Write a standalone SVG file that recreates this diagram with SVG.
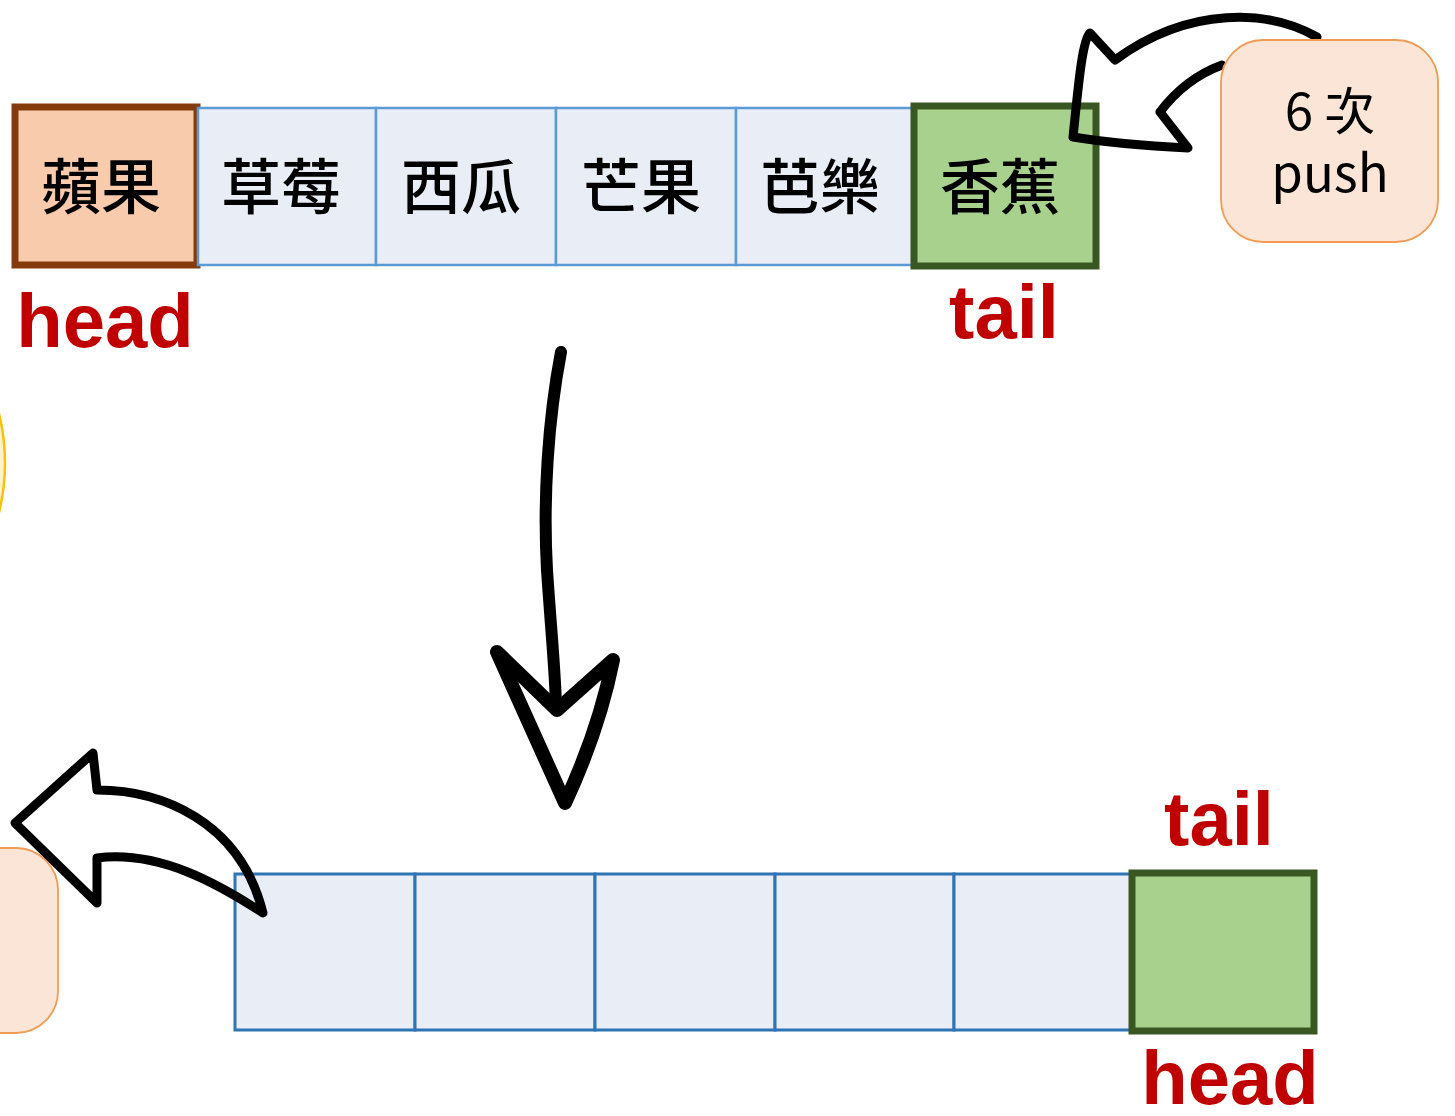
<svg xmlns="http://www.w3.org/2000/svg" width="1455" height="1116" viewBox="0 0 1455 1116">
<style>
.cjk{font-family:"Noto Sans CJK TC","Noto Sans CJK SC",sans-serif;font-weight:500;font-size:60px;fill:#000;text-anchor:middle}
.lbl{font-family:"Liberation Sans",Arial,sans-serif;font-weight:bold;font-size:76px;fill:#C00000;text-anchor:middle}
.cellT{fill:#E9EDF6;stroke:#5B9BD5;stroke-width:2.5}
.cellB{fill:#E9EDF6;stroke:#2E75B6;stroke-width:3}
.green{fill:#A9D18E;stroke:#385723;stroke-width:7}
.bubble{fill:#FBE5D6;stroke:#F19A55;stroke-width:1.8}
.bt{font-family:"Noto Sans CJK TC","Noto Sans",sans-serif;font-size:51px;fill:#000;text-anchor:middle}
.arr{fill:none;stroke:#000;stroke-width:9;stroke-linejoin:round;stroke-linecap:round}
</style>
<rect width="1455" height="1116" fill="#fff"/>

<g id="yellow-circle"><circle cx="-200" cy="463" r="205" fill="#FFF2CC" stroke="#FFC000" stroke-width="2.5"/></g>

<g id="top-row">
  <g id="t1"><rect x="15" y="107" width="182" height="158" fill="#F8CBAD" stroke="#843C0C" stroke-width="7"/><text class="cjk" x="101" y="209">蘋果</text></g>
  <g id="t2"><rect class="cellT" x="198" y="108" width="178" height="157"/><text class="cjk" x="281" y="209">草莓</text></g>
  <g id="t3"><rect class="cellT" x="376" y="108" width="180" height="157"/><text class="cjk" x="461" y="209">西瓜</text></g>
  <g id="t4"><rect class="cellT" x="556" y="108" width="180" height="157"/><text class="cjk" x="641" y="209">芒果</text></g>
  <g id="t5"><rect class="cellT" x="736" y="108" width="178" height="157"/><text class="cjk" x="820" y="209">芭樂</text></g>
  <g id="t6"><rect class="green" x="914" y="106" width="182" height="160"/><text class="cjk" x="1000" y="209">香蕉</text></g>
</g>
<g id="top-labels">
  <text class="lbl" x="105" y="347">head</text>
  <text class="lbl" x="1004" y="338">tail</text>
</g>

<g id="connectors">
  <path id="push-arrow" class="arr" d="M1317,37 C1270,10 1190,5 1115,60 L1090,33 C1082,40 1078,90 1073,137 C1110,143 1150,146 1188,148 L1160,112 C1175,92 1195,75 1222,65"/>
  <path id="down-shaft" fill="none" stroke="#000" stroke-width="12" stroke-linecap="round" d="M561,352 C548,420 543,500 547,570 C551,630 556,680 556,710"/>
  <path id="down-head" fill="none" stroke="#000" stroke-width="14" stroke-linejoin="round" stroke-linecap="round" d="M497,652 L557,710 L613,660 C603,710 585,760 565,803 Z"/>
</g>

<g id="bubble-top"><rect class="bubble" x="1221" y="40" width="217" height="202" rx="42"/>
  <text class="bt" x="1330" y="130">6 次<tspan x="1330" y="192">push</tspan></text></g>

<g id="bubble-bottom"><rect class="bubble" x="-60" y="848" width="118" height="185" rx="42"/></g>

<g id="bottom-row">
  <g id="b1"><rect class="cellB" x="235" y="874" width="180" height="156"/></g>
  <g id="b2"><rect class="cellB" x="415" y="874" width="180" height="156"/></g>
  <g id="b3"><rect class="cellB" x="595" y="874" width="180" height="156"/></g>
  <g id="b4"><rect class="cellB" x="775" y="874" width="179" height="156"/></g>
  <g id="b5"><rect class="cellB" x="954" y="874" width="178" height="156"/></g>
  <g id="b6"><rect class="green" x="1132" y="873" width="182" height="158"/></g>
</g>
<g id="bottom-labels">
  <text class="lbl" x="1219" y="845">tail</text>
  <text class="lbl" x="1230" y="1104">head</text>
</g>

<g id="connectors-2">
  <path id="pop-arrow" class="arr" d="M97,790 C160,790 240,820 263,913 C220,885 160,850 97,858 L97,903 L15,823 L93,753 Z"/>
</g>
</svg>
